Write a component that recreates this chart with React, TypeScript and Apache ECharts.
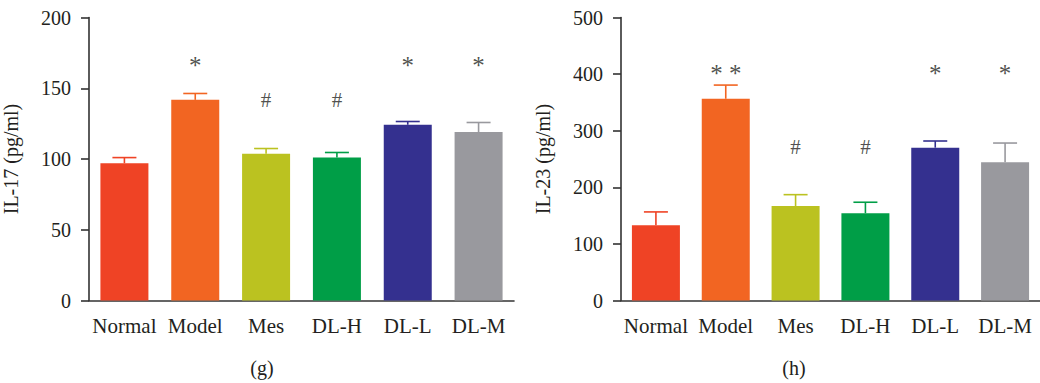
import React, { useEffect, useRef } from "react";
import * as echarts from "echarts";

const categories = ["Normal", "Model", "Mes", "DL-H", "DL-L", "DL-M"];
const barColors = ["#EF4325", "#F26522", "#BBC220", "#009E47", "#34308F", "#99999E"];

const il17Mean = [97, 141.8, 103.7, 101, 124.2, 119];
const il17Upper = [101, 146.3, 107.4, 104.6, 126.5, 125.8];
const il17Marks = ["", "*", "#", "#", "*", "*"];
const il17MarkLevels = { star: 168, hash: 142 };

const il23Mean = [133, 356.4, 167, 154.2, 270, 244.2];
const il23Upper = [156.5, 380.6, 187, 173.6, 281.8, 278.2];
const il23Marks = ["", "* *", "#", "#", "*", "*"];
const il23MarkLevels = { star: 407, hash: 272 };

const FONT = "'Liberation Serif', 'Times New Roman', serif";
const TEXT = "#231F20";
const AXIS = "#333333";

function buildSeries(idx: number, mean: number[], upper: number[], marks: string[], levels: { star: number; hash: number }) {
  const bars = {
    type: "bar",
    xAxisIndex: idx,
    yAxisIndex: idx,
    barWidth: 48,
    data: mean.map((v, i) => ({ value: v, itemStyle: { color: barColors[i] } })),
  };
  const err = {
    type: "custom",
    xAxisIndex: idx,
    yAxisIndex: idx,
    z: 3,
    data: mean.map((v, i) => [i, v, upper[i]]),
    renderItem: (params: any, api: any) => {
      const i = api.value(0);
      const base = api.coord([i, api.value(1)]);
      const top = api.coord([i, api.value(2)]);
      const color = barColors[params.dataIndex];
      return {
        type: "group",
        children: [
          { type: "line", shape: { x1: base[0], y1: base[1], x2: top[0], y2: top[1] }, style: { stroke: color, lineWidth: 1.6 } },
          { type: "line", shape: { x1: top[0] - 12, y1: top[1], x2: top[0] + 12, y2: top[1] }, style: { stroke: color, lineWidth: 1.6 } },
        ],
      };
    },
  };
  const ann = {
    type: "scatter",
    xAxisIndex: idx,
    yAxisIndex: idx,
    symbolSize: 0,
    silent: true,
    data: marks
      .map((m, i) => ({ m, i }))
      .filter((d) => d.m !== "")
      .map((d) => ({
        value: [d.i, d.m === "#" ? levels.hash : levels.star],
        label: {
          show: true,
          position: "inside",
          formatter: d.m,
          fontFamily: FONT,
          fontSize: d.m === "#" ? 21 : 25,
          color: TEXT,
          offset: [0, d.m === "#" ? 0 : 3],
        },
      })),
  };
  return [bars, err, ann];
}

function xAxis(idx: number) {
  return {
    type: "category",
    gridIndex: idx,
    data: categories,
    axisLine: { lineStyle: { color: AXIS, width: 1.6 } },
    axisTick: { alignWithLabel: true, length: 7, lineStyle: { color: AXIS, width: 1.6 } },
    axisLabel: { fontFamily: FONT, fontSize: 21, color: TEXT, margin: 15, interval: 0 },
  };
}

function yAxis(idx: number, max: number, interval: number, name: string) {
  return {
    type: "value",
    gridIndex: idx,
    min: 0,
    max,
    interval,
    name,
    nameLocation: "middle",
    nameRotate: 90,
    nameGap: 68,
    nameTextStyle: { fontFamily: FONT, fontSize: 20, color: TEXT },
    splitLine: { show: false },
    axisLine: { show: true, lineStyle: { color: AXIS, width: 1.6 } },
    axisTick: { show: true, length: 8, lineStyle: { color: AXIS, width: 1.6 } },
    axisLabel: { fontFamily: FONT, fontSize: 20, color: TEXT, margin: 18 },
  };
}

export default function App() {
  const ref = useRef<HTMLDivElement>(null);
  useEffect(() => {
    document.body.style.margin = "0";
    const chart = echarts.init(ref.current!, null, { renderer: "svg" });
    chart.setOption({
      animation: false,
      backgroundColor: "#ffffff",
      grid: [
        { left: 89, top: 17.5, width: 425, height: 283 },
        { left: 621, top: 17.5, width: 425, height: 283 },
      ],
      xAxis: [xAxis(0), xAxis(1)],
      yAxis: [yAxis(0, 200, 50, "IL-17 (pg/ml)"), yAxis(1, 500, 100, "IL-23 (pg/ml)")],
      graphic: [
        { type: "text", x: 262, y: 368, style: { text: "(g)", font: `20px ${FONT}`, fill: TEXT, textAlign: "center", textVerticalAlign: "middle" } },
        { type: "text", x: 794, y: 368, style: { text: "(h)", font: `20px ${FONT}`, fill: TEXT, textAlign: "center", textVerticalAlign: "middle" } },
      ],
      series: [
        ...buildSeries(0, il17Mean, il17Upper, il17Marks, il17MarkLevels),
        ...buildSeries(1, il23Mean, il23Upper, il23Marks, il23MarkLevels),
      ],
    });
    return () => chart.dispose();
  }, []);
  return <div ref={ref} style={{ width: 1040, height: 383 }} />;
}
